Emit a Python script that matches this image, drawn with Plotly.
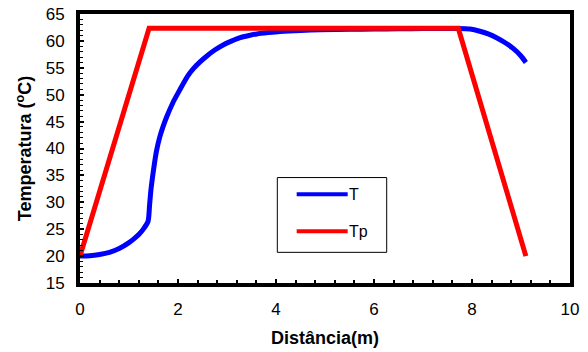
import plotly.graph_objects as go

# Blue series T
t_x = [0.0, 0.2, 0.4, 0.6, 0.8, 1.0, 1.1, 1.2, 1.3, 1.39, 1.42, 1.45, 1.5, 1.56, 1.63, 1.7, 1.77, 1.9, 2.0, 2.11, 2.2, 2.31, 2.45, 2.59, 2.75, 2.93, 3.1, 3.27, 3.45, 3.61, 3.85, 4.08, 4.5, 4.9, 5.5, 6.0, 6.5, 7.0, 7.5, 7.7, 7.96, 8.16, 8.33, 8.5, 8.67, 8.84, 9.0, 9.1]
t_y = [20.0, 20.05, 20.3, 20.7, 21.4, 22.5, 23.2, 24.0, 25.1, 26.5, 29.5, 32.5, 36.0, 39.5, 42.2, 44.2, 45.9, 48.6, 50.3, 52.1, 53.5, 54.8, 56.1, 57.2, 58.3, 59.3, 60.0, 60.6, 61.0, 61.3, 61.55, 61.75, 61.95, 62.05, 62.15, 62.2, 62.25, 62.3, 62.3, 62.3, 62.2, 61.8, 61.3, 60.6, 59.7, 58.6, 57.2, 56.0]

# Red series Tp
tp_x = [0.0, 1.41, 7.72, 9.1]
tp_y = [20.0, 62.35, 62.35, 20.0]

series_names = ["T", "Tp"]

FONT = "Liberation Sans, Arial, sans-serif"

fig = go.Figure()
fig.add_trace(go.Scatter(x=t_x, y=t_y, mode="lines", name=series_names[0],
                         line=dict(color="#0000FF", width=5, shape="spline", smoothing=0.6),
                         showlegend=False))
fig.add_trace(go.Scatter(x=tp_x, y=tp_y, mode="lines", name=series_names[1],
                         line=dict(color="#FF0000", width=5),
                         showlegend=False))

# Manual legend box (styling only)
fig.add_shape(type="rect", xref="paper", yref="paper", x0=0.4027, x1=0.6259, y0=0.114, y1=0.392,
              line=dict(color="black", width=1), fillcolor="white", layer="above")
legend_rows = [(0.330, "#0000FF", series_names[0]), (0.192, "#FF0000", series_names[1])]
for yy, col, name in legend_rows:
    fig.add_shape(type="line", xref="paper", yref="paper", x0=0.4422, x1=0.5463, y0=yy, y1=yy,
                  line=dict(color=col, width=4), layer="above")
    fig.add_annotation(xref="paper", yref="paper", x=0.545, y=yy, text=name, showarrow=False,
                       xanchor="left", yanchor="middle", font=dict(family=FONT, size=16, color="black"))

fig.update_layout(
    width=588, height=352,
    margin=dict(l=80, r=18, t=14, b=69, autoexpand=False),
    paper_bgcolor="white", plot_bgcolor="white",
    showlegend=False,
    font=dict(family=FONT, color="black"),
)
fig.update_xaxes(
    range=[0, 10], tick0=0, dtick=2,
    showgrid=False, zeroline=False, automargin=False,
    showline=True, linecolor="black", linewidth=4, mirror=True,
    ticks="inside", ticklen=4, tickwidth=2, tickcolor="black",
    minor=dict(tick0=0, dtick=0.4, ticks="inside", ticklen=3, tickwidth=1.5, tickcolor="black", showgrid=False),
    tickfont=dict(family=FONT, size=17, color="black"),
    ticklabelstandoff=8,
    title=dict(text="<b>Distância(m)</b>", font=dict(family=FONT, size=18, color="black"), standoff=14),
)
fig.update_yaxes(
    range=[15, 65], tick0=15, dtick=5,
    showgrid=False, zeroline=False, automargin=False,
    showline=True, linecolor="black", linewidth=4, mirror=True,
    ticks="inside", ticklen=4, tickwidth=2, tickcolor="black",
    minor=dict(tick0=15, dtick=1, ticks="inside", ticklen=3, tickwidth=1, tickcolor="black", showgrid=False),
    tickfont=dict(family=FONT, size=17, color="black"),
    ticklabelstandoff=8,
    title=dict(text="<b>Temperatura (<sup>o</sup>C)</b>", font=dict(family=FONT, size=18, color="black"), standoff=10),
)

fig.write_html("out.html", config={"displayModeBar": False},
               post_script="document.body.style.margin='0';")
